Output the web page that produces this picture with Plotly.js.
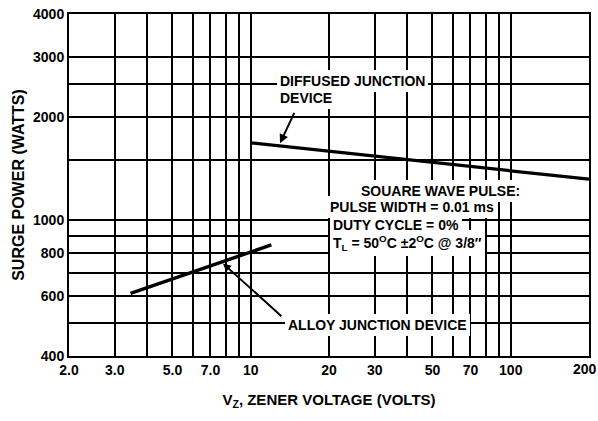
<!DOCTYPE html>
<html><head><meta charset="utf-8">
<script src="https://cdn.plot.ly/plotly-3.0.1.min.js"></script>
<style>html,body{margin:0;padding:0;background:#fff}</style>
</head><body><div id="chart" style="width:598px;height:421px"></div>
<script>
// ---- data ----
const diffusedVz = [10, 200];
const diffusedPower = [1680, 1315];
const alloyVz = [3.45, 12];
const alloyPower = [610, 845];
const xTickVals = [2, 3, 5, 7, 10, 20, 30, 50, 70, 100];
const xTickText = ['2.0', '3.0', '5.0', '7.0', '10', '20', '30', '50', '70', '100'];
const xEndLabel = '200';   // label of the right-hand axis end, kept inside the page
const xMinorGrid = [4, 6, 8, 9, 40, 60, 80, 90];
const yTickVals = [400, 600, 800, 1000, 2000, 3000, 4000];
const yTickText = ['400', '600', '800', '1000', '2000', '3000', '4000'];
const yMinorGrid = [500, 700, 900, 1500, 2500];
const xTitle = 'V<sub>Z</sub>, ZENER VOLTAGE (VOLTS)';
const yTitle = 'SURGE POWER (WATTS)';
const notes = {
  diffused1: 'DIFFUSED JUNCTION',
  diffused2: 'DEVICE',
  alloy: 'ALLOY JUNCTION DEVICE',
  cond1: 'SQUARE WAVE PULSE:',
  cond2: 'PULSE WIDTH = 0.01 ms',
  cond3: 'DUTY CYCLE = 0%',
  cond4: 'T<sub>L</sub> = 50<sup>O</sup>C \u00b12<sup>O</sup>C @ 3/8\u2033'
};

const FONT = 'Liberation Sans, Arial, Helvetica, sans-serif';
const annFont = {family: FONT, size: 14, color: '#000', weight: 'bold'};
const tickFont = {family: FONT, size: 14, color: '#000', weight: 'bold'};

function textNote(text, x, y) {
  return {text: text, xref: 'paper', yref: 'paper', x: x, y: y, xanchor: 'left', yanchor: 'middle',
          showarrow: false, bgcolor: '#fff', borderpad: 3, borderwidth: 0, font: annFont};
}
function arrowNote(x, y, ax, ay, size) {
  return {text: '', xref: 'paper', yref: 'paper', x: x, y: y, ax: ax, ay: ay,
          showarrow: true, arrowhead: 2, arrowsize: size, arrowwidth: 2, arrowcolor: '#000', standoff: 0};
}

const traces = [
  {x: diffusedVz, y: diffusedPower, mode: 'lines', line: {color: '#000', width: 3.2}, hoverinfo: 'skip'},
  {x: alloyVz, y: alloyPower, mode: 'lines', line: {color: '#000', width: 3.4}, hoverinfo: 'skip'}
];

const axisCommon = {
  showgrid: true, gridcolor: '#000', gridwidth: 2,
  showline: true, linecolor: '#000', linewidth: 2, mirror: true,
  ticks: '', zeroline: false, tickmode: 'array',
  tickfont: tickFont
};

const layout = {
  width: 598, height: 421,
  margin: {l: 69, r: 9, t: 14, b: 65},
  paper_bgcolor: '#fff', plot_bgcolor: '#fff',
  showlegend: false,
  font: {family: FONT, color: '#000'},
  xaxis: Object.assign({}, axisCommon, {
    type: 'log', range: [Math.log10(2), Math.log10(200)],
    tickvals: xTickVals, ticktext: xTickText,
    minor: {tickmode: 'array', tickvals: xMinorGrid, showgrid: true, gridcolor: '#000', gridwidth: 2, ticks: ''},
    title: {text: xTitle, font: {family: FONT, size: 15, color: '#000', weight: 'bold'}, standoff: 18}
  }),
  yaxis: Object.assign({}, axisCommon, {
    type: 'log', range: [Math.log10(400), Math.log10(4000)],
    tickvals: yTickVals, ticktext: yTickText,
    minor: {tickmode: 'array', tickvals: yMinorGrid, showgrid: true, gridcolor: '#000', gridwidth: 2, ticks: ''},
    title: {text: yTitle, font: {family: FONT, size: 16, color: '#000', weight: 'bold'}, standoff: 4}
  }),
  annotations: [
    textNote(notes.diffused1, 0.3994, 0.8035),
    textNote(notes.diffused2, 0.3994, 0.7535),
    arrowNote(0.4058, 0.6219, 15, -32, 0.9),
    textNote(notes.cond1, 0.5558, 0.4833),
    textNote(notes.cond2, 0.4956, 0.4348),
    textNote(notes.cond3, 0.5019, 0.3830),
    textNote(notes.cond4, 0.5019, 0.3295),
    textNote(notes.alloy, 0.4154, 0.0906),
    arrowNote(0.2960, 0.2705, 60, 54, 0.8),
    {text: xEndLabel, xref: 'paper', yref: 'paper', x: 1, y: 0, xanchor: 'center', yanchor: 'top',
     xshift: -4, yshift: -3, showarrow: false, font: tickFont}
  ]
};

Plotly.newPlot('chart', traces, layout, {staticPlot: true, displayModeBar: false});
</script>
</body></html>
